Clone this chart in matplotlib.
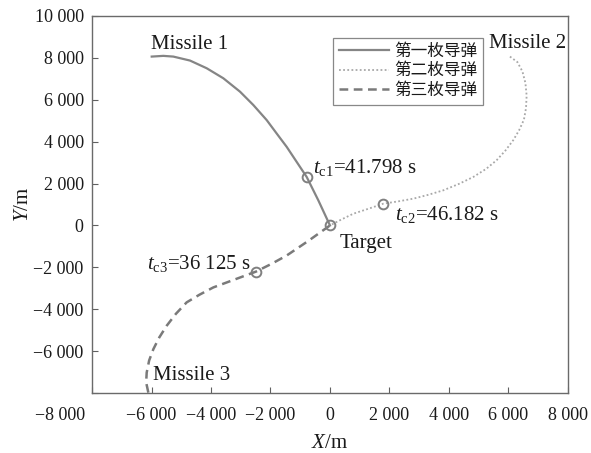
import numpy as np
import matplotlib
matplotlib.use("Agg")
import matplotlib.pyplot as plt
from matplotlib.ticker import FuncFormatter, MultipleLocator

plt.rcParams['font.family'] = ['Liberation Serif', 'Noto Sans CJK SC']
plt.rcParams['mathtext.fontset'] = 'custom'
plt.rcParams['mathtext.rm'] = 'Liberation Serif'
plt.rcParams['mathtext.it'] = 'Liberation Serif:italic'

# trajectories (m)
m1_x = [-5993, -5603, -5267, -4706, -4145, -3585, -3025, -2577, -2128, -1793, -1455, -1120, -783, -392, 0]
m1_y = [8062, 8096, 8062, 7872, 7505, 7026, 6387, 5749, 5030, 4391, 3751, 3034, 2314, 1198, 0]

m2_x = [6050, 6300, 6470, 6570, 6611, 6590, 6520, 6360, 6162, 5900, 5602, 5250, 4818, 4330, 3810, 3300, 2801, 2300, 1793, 1300, 784, 380, 0]
m2_y = [8062, 7800, 7350, 6800, 6200, 5600, 5050, 4550, 4072, 3580, 3114, 2700, 2314, 1980, 1677, 1460, 1278, 1150, 1038, 800, 559, 280, 0]

m3_x = [-6106, -6180, -6162, -6080, -5938, -5740, -5490, -5180, -4818, -4390, -3922, -3220, -2487, -1960, -1456, -730, 0]
m3_y = [-7984, -7500, -7026, -6450, -5908, -5350, -4790, -4220, -3673, -3310, -2960, -2590, -2204, -1830, -1437, -740, 0]

# points marked with circles
mk_x = [-783, 1793, -2487, 0]
mk_y = [2314, 1038, -2204, 0]

legend_names = ['第一枚导弹', '第二枚导弹', '第三枚导弹']

fig = plt.figure(figsize=(5.91, 4.53), dpi=100)
ax = fig.add_axes([0.1557, 0.1325, 0.8053, 0.8322])

ax.plot(m1_x, m1_y, color='#858585', lw=1.6, ls='-', label=legend_names[0])
ax.plot(m2_x, m2_y, color='#a8a8a8', lw=1.3, ls=(0, (1, 1.3)), label=legend_names[1])
ax.plot(m3_x, m3_y, color='#7a7a7a', lw=1.8, ls=(0, (3.5, 2.2)), label=legend_names[2])
ax.plot(mk_x, mk_y, 'o', ms=7, mfc='none', mec='#808080', mew=1.4)

txt = '#1a1a1a'
ax.text(-4706, 8623, 'Missile 1', fontsize=15, ha='center', va='center', color=txt)
ax.text(5345, 8671, 'Missile 2', fontsize=15, ha='left', va='center', color=txt)
ax.text(-5950, -7186, 'Missile 3', fontsize=15, ha='left', va='center', color=txt)
ax.text(336, -862, 'Target', fontsize=15, ha='left', va='center', color=txt)
ax.text(-571, 2778, r'$t_{\mathrm{c1}}$=41.798 s', fontsize=15, ha='left', va='center', color=txt)
ax.text(2185, 527, r'$t_{\mathrm{c2}}$=46.182 s', fontsize=15, ha='left', va='center', color=txt)
ax.text(-6151, -1820, r'$t_{\mathrm{c3}}$=36 125 s', fontsize=15, ha='left', va='center', color=txt)

ax.set_xlim(-8000, 8000)
ax.set_ylim(-8000, 10000)
ax.xaxis.set_major_locator(MultipleLocator(2000))
ax.yaxis.set_major_locator(MultipleLocator(2000))


def fmt(v, pos):
    if abs(v + 8000) < 1:
        return ''
    s = f'{abs(int(round(v))):,}'.replace(',', ' ')
    return ('\u2212' + s) if v < 0 else s


ax.xaxis.set_major_formatter(FuncFormatter(fmt))
ax.yaxis.set_major_formatter(FuncFormatter(fmt))
ax.tick_params(direction='in', length=4, width=0.8, colors='#606060',
               labelcolor=txt, labelsize=13, top=False, right=False)
ax.tick_params(axis='x', pad=10)
ax.tick_params(axis='y', pad=6)
for s in ax.spines.values():
    s.set_color('#6a6a6a')
    s.set_linewidth(1.0)

# shared corner label
fig.text(85 / 591, 1 - 415 / 453, '\u22128 000', fontsize=13, ha='right', va='center', color=txt)

ax.set_xlabel(r'$X$/m', fontsize=15, labelpad=7, color=txt)
ax.set_ylabel(r'$Y$/m', fontsize=15, labelpad=0, color=txt)

leg = ax.legend(loc='upper right', bbox_to_anchor=(0.821, 0.942), fontsize=12,
                frameon=True, fancybox=False, handlelength=3.0, handletextpad=0.3,
                borderpad=0.35, labelspacing=0.22, borderaxespad=0)
leg.get_frame().set_edgecolor('#6a6a6a')
leg.get_frame().set_linewidth(0.9)
for t in leg.get_texts():
    t.set_color(txt)

fig.savefig('out.png', dpi=100)
